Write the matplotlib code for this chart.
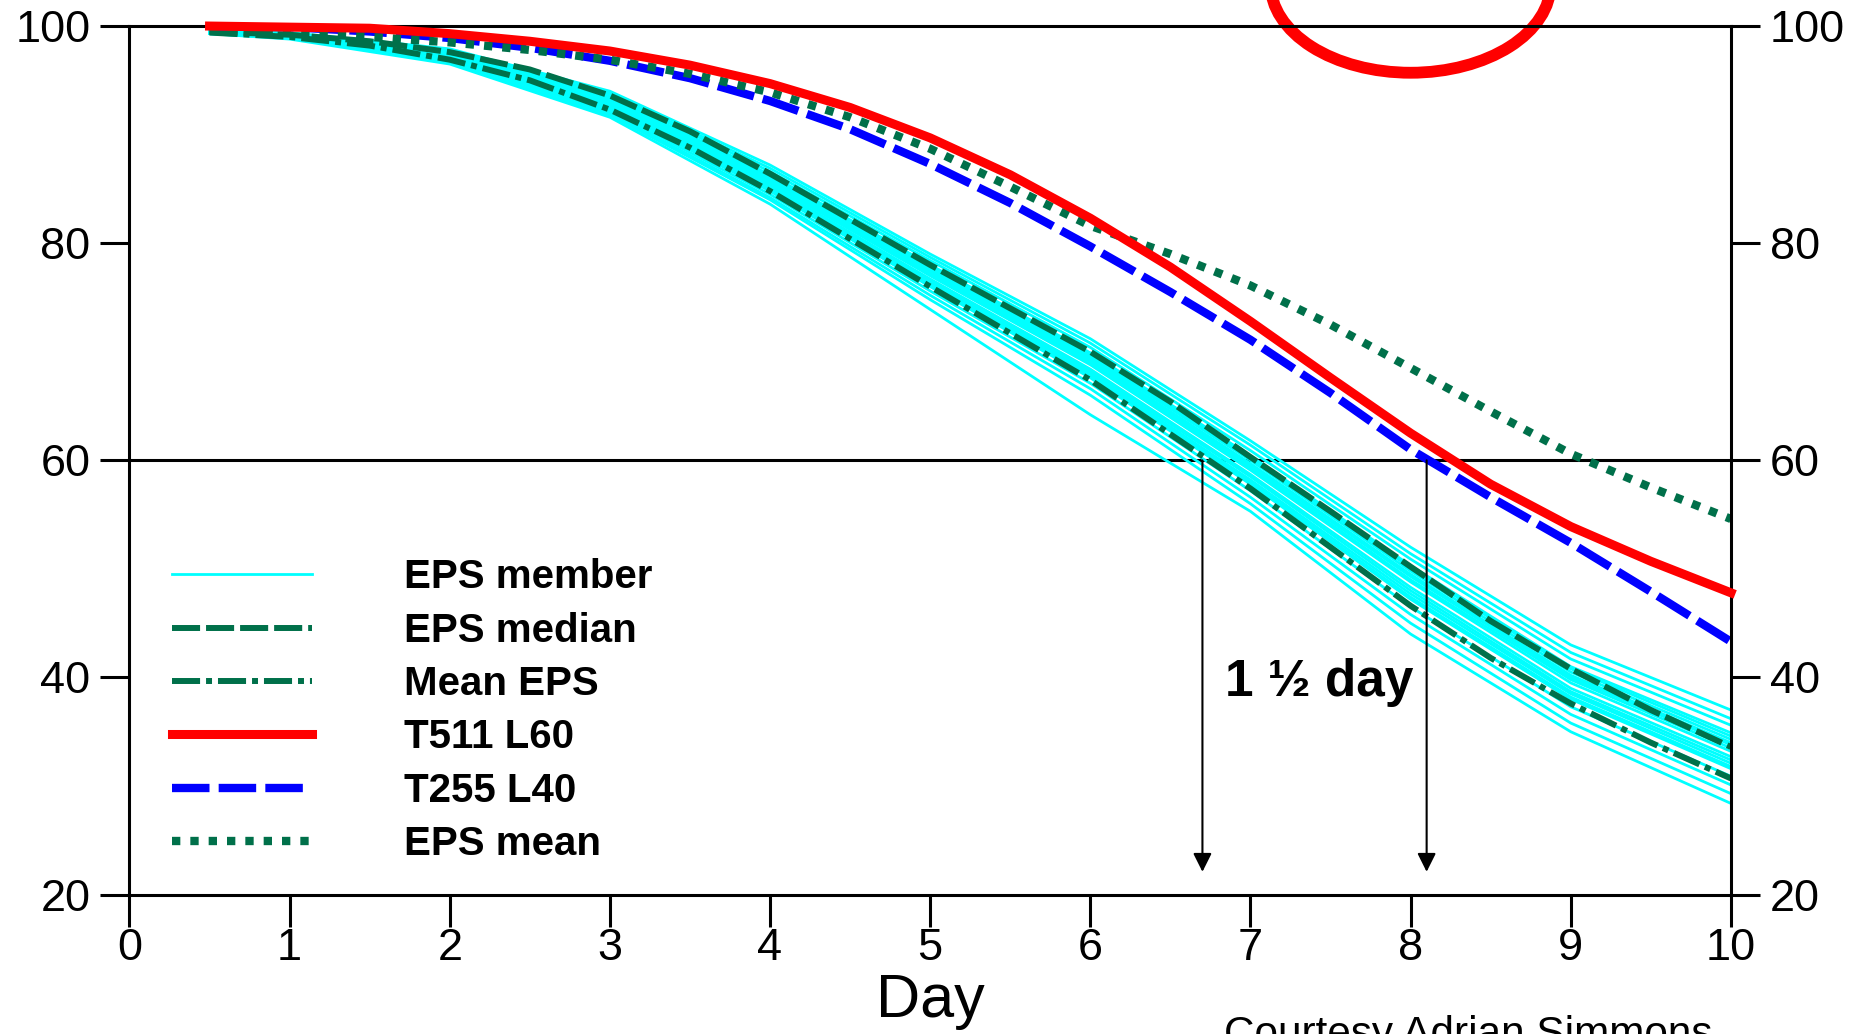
import matplotlib.pyplot as plt
from matplotlib.patches import Ellipse

plt.rcParams['font.family'] = ['Liberation Sans', 'DejaVu Sans']

# forecast day
days = [0.5, 1, 1.5, 2, 2.5, 3, 3.5, 4, 4.5, 5, 5.5, 6, 6.5, 7, 7.5, 8, 8.5, 9, 9.5, 10]

t511_l60 = [100.0, 99.9, 99.8, 99.3, 98.6, 97.7, 96.4, 94.7, 92.5, 89.7,
            86.3, 82.3, 77.8, 72.8, 67.6, 62.5, 57.8, 53.9, 50.7, 47.8]
t255_l40 = [100.0, 99.9, 99.5, 98.9, 98.0, 96.8, 95.2, 93.1, 90.5, 87.3,
            83.7, 79.7, 75.5, 71.1, 66.2, 61.0, 56.6, 52.4, 47.9, 43.3]
eps_mean = [99.6, 99.4, 99.0, 98.5, 97.8, 96.9, 95.6, 93.9, 91.6, 88.7,
            85.2, 81.6, 79.0, 76.1, 72.5, 68.5, 64.5, 60.6, 57.5, 54.6]
eps_median = [99.5, 99.2, 98.6, 97.6, 96.0, 93.6, 90.3, 86.4, 82.2, 78.0,
              74.0, 70.0, 65.4, 60.3, 55.3, 50.2, 45.2, 40.8, 37.0, 33.6]
mean_eps = [99.4, 99.0, 98.2, 96.9, 95.0, 92.3, 88.8, 84.8, 80.4, 76.0,
            71.7, 67.4, 62.4, 57.4, 52.0, 46.6, 41.8, 37.6, 34.0, 30.7]

# individual ensemble members, daily values
member_days = [0.5, 1, 2, 3, 4, 5, 6, 7, 8, 9, 10]
members = [
    [99.7, 99.4, 97.9, 94.0, 87.2, 79.0, 71.2, 61.8, 52.0, 43.0, 37.0],
    [99.6, 99.3, 97.8, 93.8, 86.9, 78.7, 70.8, 61.4, 51.4, 42.3, 36.2],
    [99.6, 99.3, 97.7, 93.7, 86.6, 78.4, 70.4, 60.9, 50.9, 41.7, 35.6],
    [99.5, 99.2, 97.6, 93.5, 86.3, 78.0, 69.9, 60.4, 50.3, 41.0, 34.9],
    [99.5, 99.2, 97.5, 93.4, 86.2, 77.8, 69.7, 60.2, 50.1, 40.8, 34.6],
    [99.5, 99.2, 97.5, 93.3, 86.0, 77.6, 69.5, 60.0, 49.8, 40.5, 34.3],
    [99.5, 99.1, 97.4, 93.2, 85.9, 77.4, 69.3, 59.7, 49.5, 40.2, 34.0],
    [99.5, 99.1, 97.4, 93.1, 85.7, 77.3, 69.1, 59.5, 49.3, 40.0, 33.8],
    [99.5, 99.1, 97.3, 93.0, 85.6, 77.1, 68.9, 59.3, 49.0, 39.8, 33.5],
    [99.5, 99.1, 97.3, 92.9, 85.5, 77.0, 68.8, 59.1, 48.8, 39.5, 33.2],
    [99.4, 99.1, 97.2, 92.8, 85.3, 76.7, 68.4, 58.7, 48.3, 39.0, 32.7],
    [99.4, 99.0, 97.1, 92.7, 85.1, 76.5, 68.2, 58.5, 48.0, 38.7, 32.4],
    [99.4, 99.0, 97.1, 92.6, 85.0, 76.4, 68.0, 58.2, 47.7, 38.5, 32.1],
    [99.4, 99.0, 97.0, 92.5, 84.9, 76.2, 67.8, 58.0, 47.4, 38.2, 31.8],
    [99.4, 99.0, 97.0, 92.4, 84.8, 76.0, 67.6, 57.8, 47.2, 38.0, 31.6],
    [99.4, 99.0, 96.9, 92.2, 84.5, 75.6, 67.1, 57.2, 46.5, 37.3, 30.9],
    [99.3, 98.9, 96.8, 92.0, 84.2, 75.2, 66.6, 56.6, 45.8, 36.6, 30.1],
    [99.3, 98.9, 96.6, 91.8, 84.0, 74.8, 66.0, 56.0, 45.0, 35.8, 29.3],
    [99.3, 98.8, 96.5, 91.6, 83.6, 73.9, 64.2, 55.3, 44.0, 35.0, 28.4],
]

green = '#00704A'

fig = plt.figure(figsize=(18.63, 10.34), dpi=100)
ax = fig.add_axes([0.0695, 0.1348, 0.8596, 0.8400])

ax.axhline(60, color='black', lw=2.2, zorder=1.5)

for i, m in enumerate(members):
    ax.plot(member_days, m, color='cyan', lw=2.0,
            label='EPS member' if i == 0 else None)
ax.plot(days, eps_median, color=green, lw=4.3, dashes=(4.7, 1.0), label='EPS median')
ax.plot(days, mean_eps, color=green, lw=4.3, dashes=(4.7, 1.0, 1.0, 1.0), label='Mean EPS')
ax.plot(days, t511_l60, color='red', lw=6.5, label='T511 L60', zorder=3, clip_on=False)
ax.plot(days, t255_l40, color='blue', lw=6.0, dashes=(4.5, 1.1), label='T255 L40')
ax.plot(days, eps_mean, color=green, lw=6.0, dashes=(1.0, 1.2), label='EPS mean')

# arrows and annotation
for xa in [6.7, 8.1]:
    ax.annotate('', xy=(xa, 22.1), xytext=(xa, 60),
                arrowprops=dict(arrowstyle='-|>', color='black', lw=1.5,
                                mutation_scale=28, shrinkA=0, shrinkB=0))
ax.text(7.43, 38.3, '1 \u00bd day', fontsize=37, fontweight='bold',
        ha='center', va='baseline')

ax.add_patch(Ellipse((8.0, 103.9), 1.75, 16.4, fill=False, ec='red',
                     lw=8.5, clip_on=False))

ax.set_xlim(0, 10)
ax.set_ylim(20, 100)
ax.set_xticks(range(0, 11))
ax.set_yticks([20, 40, 60, 80, 100])
for s in ax.spines.values():
    s.set_linewidth(2.2)
ax.tick_params(axis='x', direction='out', length=23, width=2.2, pad=1, labelsize=32.5)
ax.tick_params(axis='y', direction='out', length=21, width=2.2, pad=7, labelsize=32.5,
               left=True, right=True, labelleft=True, labelright=True)
ax.set_xlabel('Day', fontsize=44, labelpad=3)

leg = ax.legend(loc='upper left', bbox_to_anchor=(0.0265, 0.387), frameon=False,
                borderpad=0, borderaxespad=0, handlelength=3.47, handletextpad=2.28,
                labelspacing=0.38, prop={'size': 29, 'weight': 'bold'})

fig.text(1224 / 1863, -0.0116, 'Courtesy Adrian Simmons', fontsize=30.4,
         ha='left', va='baseline')

fig.savefig('out.png', dpi=100)
